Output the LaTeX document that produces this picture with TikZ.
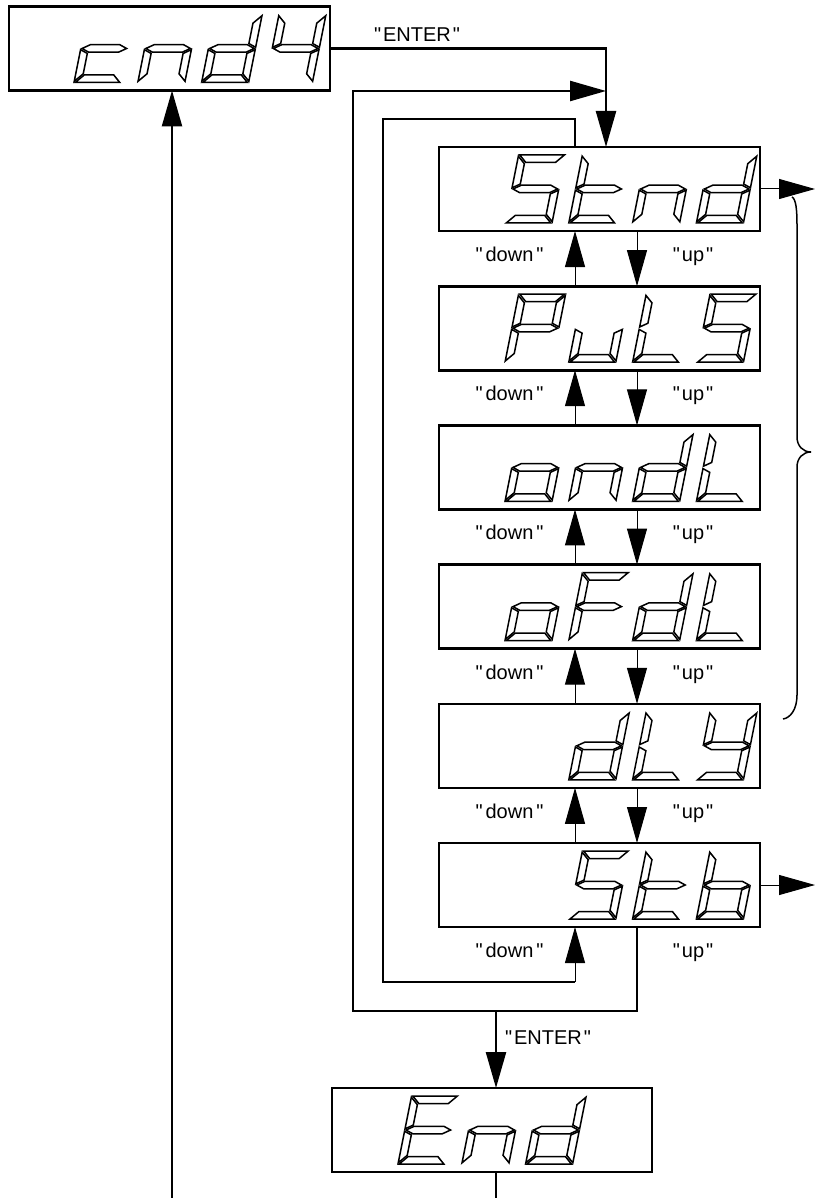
\documentclass[tikz,border=0pt]{standalone}
\usepackage{fontspec}
\newfontfamily\labfont{Liberation Sans}
\usetikzlibrary{arrows.meta,calc}
% seven-segment glyph parts (local units: width 47, height 68)
\newcommand\SegA{\draw[segline] (1.2,68) -- (45.8,68) -- (38.3,60.5) -- (8.7,60.5) -- cycle;}
\newcommand\SegB{\draw[segline] (47,66.8) -- (39.5,59.3) -- (39.5,38.95) -- (47,35.2) -- cycle;}
\newcommand\SegC{\draw[segline] (47,32.8) -- (39.5,29.05) -- (39.5,8.7) -- (47,1.2) -- cycle;}
\newcommand\SegD{\draw[segline] (1.2,0) -- (45.8,0) -- (38.3,7.5) -- (8.7,7.5) -- cycle;}
\newcommand\SegE{\draw[segline] (0,32.8) -- (7.5,29.05) -- (7.5,8.7) -- (0,1.2) -- cycle;}
\newcommand\SegF{\draw[segline] (0,66.8) -- (7.5,59.3) -- (7.5,38.95) -- (0,35.2) -- cycle;}
\newcommand\SegG{\draw[segline] (1.2,34) -- (8.7,37.75) -- (38.3,37.75) -- (45.8,34) -- (38.3,30.25) -- (8.7,30.25) -- cycle;}
\newcommand\defsegchar[2]{\expandafter\def\csname segch#1\endcsname{#2}}
\defsegchar{c}{\SegD\SegE\SegG}
\defsegchar{n}{\SegC\SegE\SegG}
\defsegchar{d}{\SegB\SegC\SegD\SegE\SegG}
\defsegchar{4}{\SegB\SegC\SegF\SegG}
\defsegchar{S}{\SegA\SegC\SegD\SegF\SegG}
\defsegchar{t}{\SegD\SegE\SegF\SegG}
\defsegchar{P}{\SegA\SegB\SegE\SegF\SegG}
\defsegchar{u}{\SegC\SegD\SegE}
\defsegchar{L}{\SegD\SegE\SegF}
\defsegchar{o}{\SegC\SegD\SegE\SegG}
\defsegchar{F}{\SegA\SegE\SegF\SegG}
\defsegchar{Y}{\SegB\SegC\SegD\SegF\SegG}
\defsegchar{b}{\SegC\SegD\SegE\SegF\SegG}
\defsegchar{E}{\SegA\SegD\SegE\SegF\SegG}
% #1 x of first cell, #2 y of baseline, #3 characters
\newcommand\segtext[3]{\foreach \ch [count=\k from 0] in {#3}{%
  \begin{scope}[shift={(#1+\k*63.8,#2)},x=1pt,y=1pt,xslant=0.2]
    \csname segch\ch\endcsname
  \end{scope}}}
\begin{document}
\begin{tikzpicture}[x=1pt,y=-1pt,
  dbox/.style={draw, line width=2.6pt, minimum width=321pt, minimum height=84pt,
    inner sep=0pt, outer sep=0pt, anchor=north west},
  segline/.style={line width=1.5pt, line join=miter},
  thk/.style={line width=2.4pt},
  thn/.style={line width=1pt},
  arrowtip/.style={-{Triangle[length=36pt,width=20pt]}},
  lbl/.style={font=\labfont\fontsize{20}{23}\selectfont, inner sep=0pt, anchor=base},
  brc/.style={line width=1.5pt}]
\useasboundingbox (0,0) rectangle (815,1198);

% display boxes
\node[dbox] (cnd)  at (9,6.5) {};
\node[dbox] (stnd) at (439,147) {};
\node[dbox] (puls) at (439,286.2) {};
\node[dbox] (ondl) at (439,425.4) {};
\node[dbox] (ofdl) at (439,564.6) {};
\node[dbox] (dly)  at (439,703.8) {};
\node[dbox] (stb)  at (439,843) {};
\node[dbox, minimum width=320pt] (end) at (332,1088) {};

% seven-segment texts
\segtext{74}{82.5}{c,n,d,4}
\segtext{505}{223}{S,t,n,d}
\segtext{505}{362.2}{P,u,L,S}
\segtext{505}{501.4}{o,n,d,L}
\segtext{505}{640.6}{o,F,d,L}
\segtext{568.8}{779.8}{d,L,Y}
\segtext{568.8}{919}{S,t,b}
\segtext{398}{1164}{E,n,d}

% helper coordinates
\coordinate (xU) at (575,0);
\coordinate (xD) at (637,0);
\coordinate (xE) at (606,0);
\coordinate (xR) at (815,0);
\coordinate (oBR) at (637,1011);
\coordinate (oBL) at (353,1011);
\coordinate (oTL) at (353,91);
\coordinate (oTR) at (606,91);
\coordinate (eJ) at (496,1011);
\coordinate (iTR) at (575,119);
\coordinate (iTL) at (383,119);
\coordinate (iBL) at (383,982);
\coordinate (iBR) at (575,982);
\coordinate (bL) at (172,1198);
\coordinate (bR) at (496,1198);

% ENTER from cnd4 into the menu
\draw[thk, arrowtip] (cnd.east) -| (stnd.north -| xE);
\node[lbl] (ent1) at (417,42) {"\kern2pt ENTER\kern2pt"};

% up / down between the menu items
\foreach \a/\b in {stnd/puls, puls/ondl, ondl/ofdl, ofdl/dly, dly/stb}{
  \draw[thn, arrowtip] (\b.north -| xU) -- (\a.south -| xU);
  \draw[thn, arrowtip] (\a.south -| xD) -- (\b.north -| xD);
}
\foreach \a in {stnd,puls,ondl,ofdl,dly,stb}{
  \node[lbl] (dn-\a) at ($(\a.south)+(-90,30.5)$) {"\kern3pt down\kern3pt"};
  \node[lbl] (up-\a) at ($(\a.south)+(93.5,30.5)$) {"\kern2pt up\kern2pt"};
}

% inner loop: "down" from Stnd wraps to Stb
\draw[thk] (stnd.north -| xU) -- (iTR) -- (iTL) -- (iBL) -- (iBR);
\draw[thn, arrowtip] (iBR) -- (stb.south -| xU);

% outer loop: "up" from Stb wraps to Stnd, branch ENTER to End
\draw[thk, arrowtip] (stb.south -| xD) -- (oBR) -- (oBL) -- (oTL) -- (oTR);
\draw[thk, arrowtip] (eJ) -- (end.north -| eJ);
\node[lbl] (ent2) at (548,1044) {"\kern2pt ENTER\kern2pt"};

% End back to cnd4
\draw[thk] (end.south -| bR) -- (bR);
\draw[thk, arrowtip] (bL) -- (cnd.south -| bL);

% outputs to the right
\draw[thn, arrowtip] (stnd.east) -- (stnd.east -| xR);
\draw[thn, arrowtip] (stb.east) -- (stb.east -| xR);

% brace
\draw[brc] (792,197) .. controls (796,199) and (797,210) .. (797,225)
  -- (797,437) .. controls (797,446) and (803,452) .. (811,452)
  .. controls (803,452) and (797,458) .. (797,467)
  -- (797,695) .. controls (797,710) and (790,718) .. (783,719);
\end{tikzpicture}
\end{document}
